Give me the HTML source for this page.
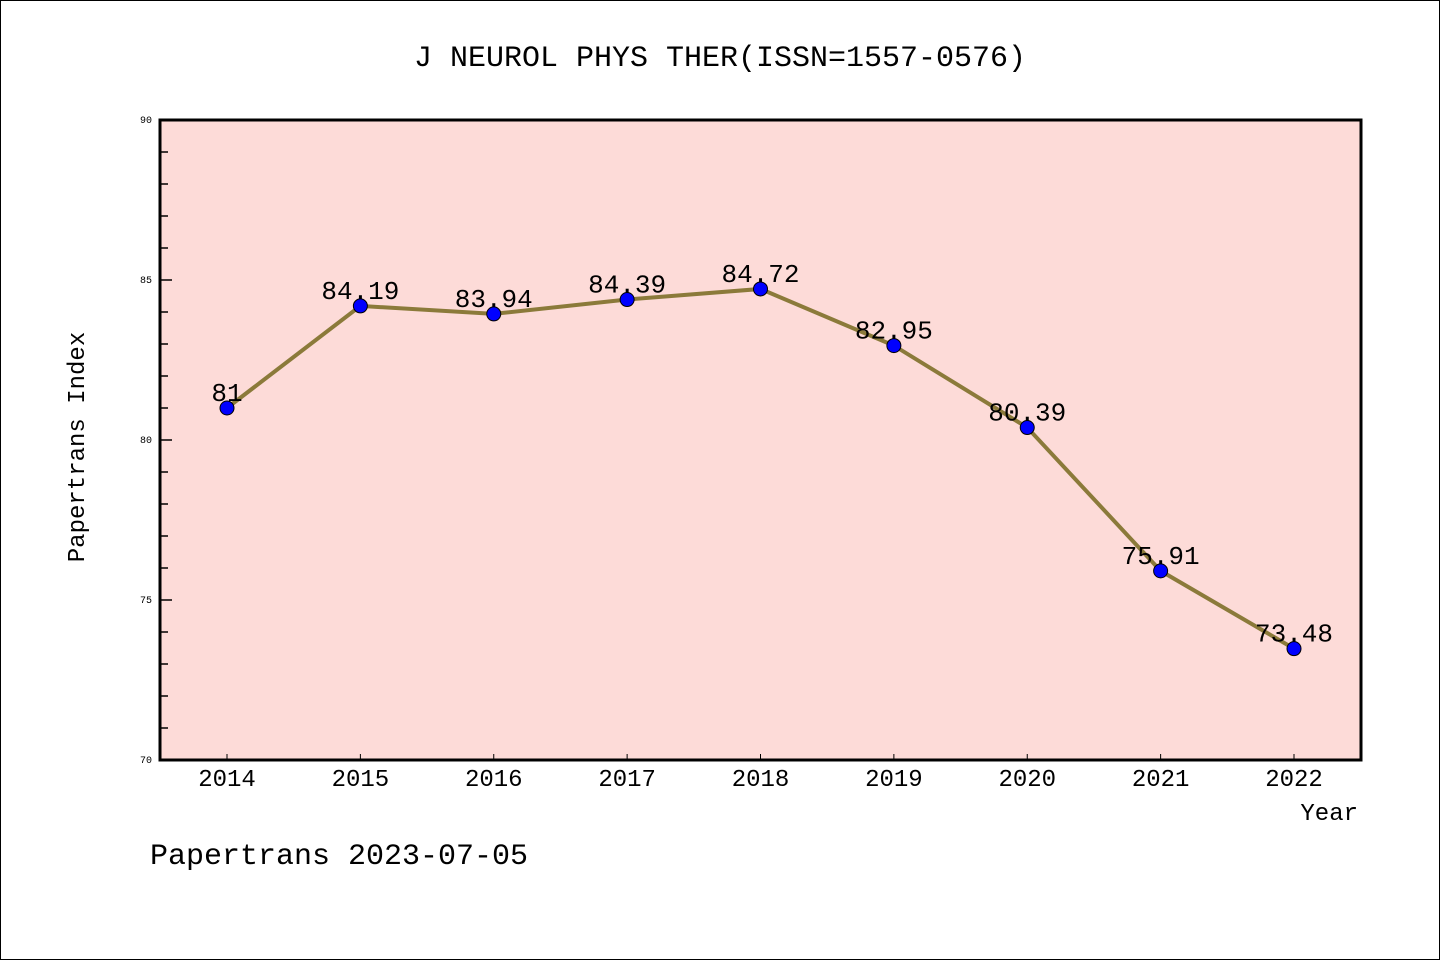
<!DOCTYPE html>
<html><head><meta charset="utf-8"><style>
body{margin:0;background:#fff}
svg{display:block;font-family:"Liberation Mono","DejaVu Sans Mono",monospace}
</style></head><body>
<svg id="chart" width="1440" height="960" xmlns="http://www.w3.org/2000/svg">
<rect x="0.5" y="0.5" width="1439" height="959" fill="#fff" stroke="#000"/>
<text x="720" y="66" font-size="30" text-anchor="middle">J NEUROL PHYS THER(ISSN=1557-0576)</text>
<rect x="160" y="120" width="1201" height="640" fill="#fddbd8"/>
<g id="axes"></g>
<g id="series"></g>
<rect x="160" y="120" width="1201" height="640" fill="none" stroke="#000" stroke-width="3"/>
<text x="84" y="447" font-size="24" text-anchor="middle" transform="rotate(-90 84 447)">Papertrans Index</text>
<text x="1358" y="820" font-size="24" text-anchor="end">Year</text>
<text x="150" y="864" font-size="30">Papertrans 2023-07-05</text>
</svg>
<script>
const years=["2014","2015","2016","2017","2018","2019","2020","2021","2022"];
const values=[81,84.19,83.94,84.39,84.72,82.95,80.39,75.91,73.48];
const labels=["81","84.19","83.94","84.39","84.72","82.95","80.39","75.91","73.48"];
const yTicks=[70,75,80,85,90];
const NS="http://www.w3.org/2000/svg";
const yMin=70,yMax=90,plotTop=120,plotBot=760;
const yS=v=>plotBot-(v-yMin)/(yMax-yMin)*(plotBot-plotTop);
const xS=i=>227+i*(1294-227)/(years.length-1);
function mk(t,a,p){const e=document.createElementNS(NS,t);for(const k in a)e.setAttribute(k,a[k]);p.appendChild(e);return e;}
const ax=document.getElementById('axes'),se=document.getElementById('series');
for(let v=yMin+1;v<yMax;v++){
 const major=v%5===0;
 const t=mk('line',{x1:160,x2:major?172:168,y1:yS(v),y2:yS(v),stroke:'#000','stroke-width':1.5},ax);
 
 
}
yTicks.forEach(v=>{
 const t=mk('text',{x:152,y:yS(v)+3,'font-size':10,'text-anchor':'end'},ax);
 t.textContent=v;
 
 
});
years.forEach((yr,i)=>{
 const l=mk('line',{x1:xS(i),x2:xS(i),y1:plotBot,y2:plotBot-6,stroke:'#000'},ax);
 
 
 const t=mk('text',{x:xS(i),y:786,'font-size':24,'text-anchor':'middle'},ax);
 t.textContent=yr;
 
 
});
const pl=mk('polyline',{points:values.map((v,i)=>xS(i)+','+yS(v)).join(' '),fill:'none',stroke:'#8b7a3a','stroke-width':4},se);


values.forEach((v,i)=>{
 const c=mk('circle',{cx:xS(i),cy:yS(v),r:7,fill:'#0000ff',stroke:'#000','stroke-width':1},se);
 
 
 const t=mk('text',{x:xS(i),y:yS(v)-7,'font-size':26,'text-anchor':'middle'},se);
 t.textContent=labels[i];
 
 
});
</script>
</body></html>
